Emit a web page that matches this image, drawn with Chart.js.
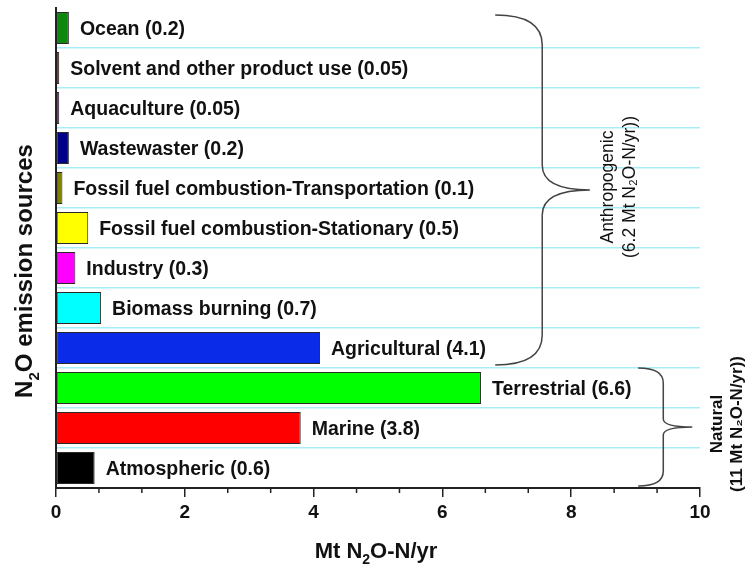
<!DOCTYPE html>
<html>
<head>
<meta charset="utf-8">
<script src="https://cdn.jsdelivr.net/npm/chart.js@4"></script>
<style>
  body { margin: 0; background: #fff; }
  canvas { display: block; }
</style>
</head>
<body>
<canvas id="chart" width="752" height="569"></canvas>
<script>
const sources = [
  'Ocean',
  'Solvent and other product use',
  'Aquaculture',
  'Wastewaster',
  'Fossil fuel combustion-Transportation',
  'Fossil fuel combustion-Stationary',
  'Industry',
  'Biomass burning',
  'Agricultural',
  'Terrestrial',
  'Marine',
  'Atmospheric',
];
const emissions = [0.2, 0.05, 0.05, 0.2, 0.1, 0.5, 0.3, 0.7, 4.1, 6.6, 3.8, 0.6];
const barColors = [
  '#0e870e', '#7a0000', '#800080', '#000088', '#7f7f00', '#ffff00',
  '#ff00ff', '#00ffff', '#0a2ce8', '#00ff00', '#ff0000', '#000000',
];
const xMin = 0, xMax = 10, xStep = 2;

// axis titles: [text, subscript?]
const xTitle = [['Mt N', false], ['2', true], ['O-N/yr', false]];
const yTitle = [['N', false], ['2', true], ['O emission sources', false]];

// groups (brace on the right)
const groupNames = ['Anthropogenic', 'Natural'];
const groupTotals = ['(6.2 Mt N₂O-N/yr))', '(11 Mt N₂O-N/yr))'];
const groupFirst = [0, 9];
const groupLast = [8, 11];

const FONT = "'Liberation Sans', Arial, sans-serif";

// 아래첨자 포함 텍스트 (가운데 정렬, 기준선)
function drawRich(ctx, parts, size, cx, baseY) {
  const big = `bold ${size}px ${FONT}`;
  const small = `bold ${Math.round(size * 0.62)}px ${FONT}`;
  let w = 0;
  parts.forEach(([t, sub]) => {
    ctx.font = sub ? small : big;
    w += ctx.measureText(t).width;
  });
  let x = cx - w / 2;
  ctx.textAlign = 'left';
  ctx.textBaseline = 'alphabetic';
  parts.forEach(([t, sub]) => {
    ctx.font = sub ? small : big;
    ctx.fillText(t, x, baseY + (sub ? size * 0.28 : 0));
    x += ctx.measureText(t).width;
  });
}

// 축 제목
const axisTitles = {
  id: 'axisTitles',
  afterDraw(chart) {
    const ctx = chart.ctx;
    ctx.save();
    ctx.fillStyle = '#111';
    drawRich(ctx, xTitle, 22, 376, 558);
    ctx.translate(32, 271);
    ctx.rotate(-Math.PI / 2);
    drawRich(ctx, yTitle, 24, 0, 0);
    ctx.restore();
  },
};

// 막대 끝 라벨
const barLabels = {
  id: 'barLabels',
  afterDatasetsDraw(chart) {
    const ctx = chart.ctx;
    const meta = chart.getDatasetMeta(0);
    ctx.save();
    ctx.font = 'bold 19.5px ' + FONT;
    ctx.fillStyle = '#111';
    ctx.textBaseline = 'middle';
    ctx.textAlign = 'left';
    meta.data.forEach((bar, i) => {
      ctx.fillText(`${sources[i]} (${emissions[i]})`, bar.x + 11, bar.y + 2);
    });
    ctx.restore();
  },
};

// x축 보조 눈금
const minorTicks = {
  id: 'minorTicks',
  afterDraw(chart) {
    const ctx = chart.ctx;
    const x = chart.scales.x;
    const y0 = chart.chartArea.bottom;
    ctx.save();
    ctx.strokeStyle = '#222';
    ctx.lineWidth = 1.5;
    for (let k = 0; k <= 15; k++) {
      if (k % 3 === 0) continue;
      const px = x.getPixelForValue((k * xStep) / 3);
      ctx.beginPath();
      ctx.moveTo(px, y0);
      ctx.lineTo(px, y0 + 5);
      ctx.stroke();
    }
    ctx.restore();
  },
};

// 오른쪽 중괄호
const braces = {
  id: 'braces',
  afterDraw(chart) {
    const ctx = chart.ctx;
    const x = chart.scales.x;
    const y = chart.scales.y;
    const row = y.height / sources.length;
    const specs = [
      { ends: 6.82, spine: 7.55, tip: 8.29, inTop: 7, inBot: 3, r1: 30, r2: 25,
        t1x: 608, t2x: 630, weight: 'normal', size: 17.5 },
      { ends: 9.04, spine: 9.43, tip: 9.88, inTop: 0, inBot: 2, r1: 15, r2: 8,
        t1x: 717, t2x: 737, weight: 'bold', size: 17 },
    ];
    ctx.save();
    specs.forEach((s, g) => {
      const yTop = y.getPixelForValue(groupFirst[g]) - row / 2 + s.inTop;
      const yBot = y.getPixelForValue(groupLast[g]) + row / 2 - s.inBot;
      const yMid = (yTop + yBot) / 2;
      const x0 = x.getPixelForValue(s.ends);
      const x1 = x.getPixelForValue(s.spine);
      const x2 = x.getPixelForValue(s.tip);
      ctx.strokeStyle = '#444';
      ctx.lineWidth = 1.5;
      ctx.beginPath();
      ctx.moveTo(x0, yTop);
      ctx.quadraticCurveTo(x1, yTop, x1, yTop + s.r1);
      ctx.lineTo(x1, yMid - s.r2);
      ctx.quadraticCurveTo(x1, yMid, x2, yMid);
      ctx.quadraticCurveTo(x1, yMid, x1, yMid + s.r2);
      ctx.lineTo(x1, yBot - s.r1);
      ctx.quadraticCurveTo(x1, yBot, x0, yBot);
      ctx.stroke();

      ctx.fillStyle = '#111';
      ctx.font = `${s.weight} ${s.size}px ${FONT}`;
      ctx.textAlign = 'center';
      ctx.textBaseline = 'middle';
      [[groupNames[g], s.t1x], [groupTotals[g], s.t2x]].forEach(([txt, tx]) => {
        ctx.save();
        ctx.translate(tx, yMid - 3);
        ctx.rotate(-Math.PI / 2);
        ctx.fillText(txt, 0, 0);
        ctx.restore();
      });
    });
    ctx.restore();
  },
};

new Chart(document.getElementById('chart'), {
  type: 'bar',
  data: {
    labels: sources,
    datasets: [
      {
        data: emissions,
        backgroundColor: barColors,
        borderColor: '#2a2a2a',
        borderWidth: 1,
        borderSkipped: false,
        barPercentage: 0.8,
        categoryPercentage: 1,
      },
    ],
  },
  options: {
    indexAxis: 'y',
    responsive: false,
    animation: false,
    layout: { padding: { top: 8, right: 52, left: 0, bottom: 0 } },
    plugins: {
      legend: { display: false },
      tooltip: { enabled: false },
    },
    scales: {
      x: {
        min: xMin,
        max: xMax,
        afterFit: (s) => { s.height = 81; },
        ticks: {
          stepSize: xStep,
          padding: 4,
          color: '#111',
          font: { family: FONT, size: 19, weight: 'bold' },
        },
        grid: {
          drawOnChartArea: false,
          drawTicks: true,
          tickLength: 9,
          color: '#222',
          lineWidth: 1.5,
        },
        border: { display: true, color: '#222', width: 2 },
      },
      y: {
        afterFit: (s) => { s.width = 56; },
        ticks: { display: false },
        grid: {
          offset: true,
          drawTicks: false,
          color: (c) => (c.index === 0 ? 'rgba(0,0,0,0)' : '#a6eef6'),
          lineWidth: 1.5,
        },
        border: { display: true, color: '#222', width: 2 },
      },
    },
  },
  plugins: [barLabels, minorTicks, braces, axisTitles],
});
</script>
</body>
</html>
